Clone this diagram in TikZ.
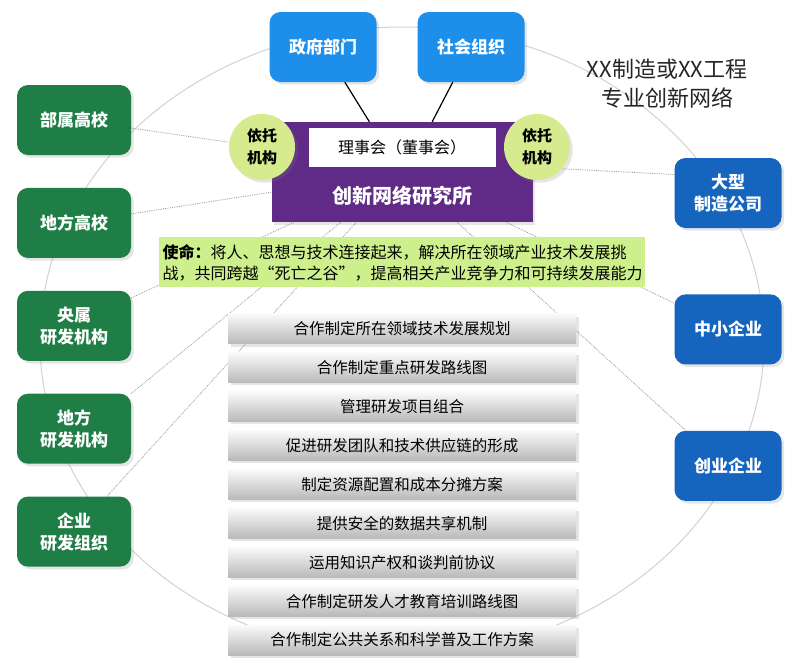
\documentclass[tikz,border=0pt]{standalone}
\usepackage{fontspec}
\setmainfont{Noto Sans CJK SC}
\usetikzlibrary{positioning,shapes,backgrounds,shadows}

\definecolor{unigreen}{HTML}{1E7E45}
\definecolor{firmblue}{HTML}{1565BF}
\definecolor{govblue}{HTML}{1E8EEB}
\definecolor{instpurple}{HTML}{5F2B87}
\definecolor{relyfill}{HTML}{D5EB8E}
\definecolor{missionfill}{HTML}{CDF08C}

\begin{document}
\begin{tikzpicture}[x=1pt,y=-1pt,node distance=32.5pt]

	\tikzstyle{member}=[rectangle,rounded corners=11pt,minimum width=114pt,minimum height=70pt,text=white,align=center,drop shadow={opacity=0.2},font=\fontsize{17}{22}\selectfont\bfseries]
	\tikzstyle{school}=[member,fill=unigreen]
	\tikzstyle{firm}=[member,fill=firmblue,minimum width=107pt]
	\tikzstyle{public}=[member,fill=govblue,minimum width=107pt]
	\tikzstyle{rely}=[circle,fill=relyfill,minimum size=66pt,inner sep=0pt,align=center,drop shadow={opacity=0.2},font=\fontsize{15}{22}\selectfont\bfseries]
	\tikzstyle{task}=[rectangle,minimum width=348pt,minimum height=30pt,top color=gray!4,bottom color=gray!55,drop shadow={opacity=0.2},font=\fontsize{15.5}{18}\selectfont]
	\tikzstyle{link}=[densely dotted,gray!80,line width=0.8pt]

	\useasboundingbox (0,0) rectangle (800,662);

	% members on the ring
	\node [school] (g1) at (74,120) {部属高校};
	\node [school] (g2) [below=of g1] {地方高校};
	\node [school] (g3) [below=of g2] {央属\\研发机构};
	\node [school] (g4) [below=of g3] {地方\\研发机构};
	\node [school] (g5) [below=of g4] {企业\\研发组织};

	\node [firm] (b1) at (728,193) {大型\\制造公司};
	\node [firm] (b2) [below=66pt of b1] {中小企业};
	\node [firm] (b3) [below=66pt of b2] {创业企业};

	\node [public] (t1) at (323,47) {政府部门};
	\node [public] (t2) at (471,47) {社会组织};

	% the institute
	\node [rectangle,fill=instpurple,minimum width=261pt,minimum height=100pt,drop shadow={opacity=0.2}] (inst) at (402,172) {};
	\node [rectangle,fill=white,minimum width=187pt,minimum height=39pt,font=\fontsize{16}{18}\selectfont] (board) [below=6pt of inst.north] {理事会（董事会）};
	\node [text=white,font=\fontsize{20}{24}\selectfont\bfseries] (instname) [above=13pt of inst.south] {创新网络研究所};
	\node [rely] (yt1) at (262,147) {依托\\机构};
	\node [rely] (yt2) at (537,147) {依托\\机构};

	\node [fill=missionfill,text width=479pt,minimum height=50pt,align=left,font=\fontsize{16}{21}\selectfont] (mission) [below=15pt of inst] {\textbf{使命：}将人、思想与技术连接起来，解决所在领域产业技术发展挑\\战，共同跨越“死亡之谷”，提高相关产业竞争力和可持续发展能力};

	% tasks
	\node [task] (p1) [below=26pt of mission] {合作制定所在领域技术发展规划};
	\node [task] (p2) [below=8.5pt of p1] {合作制定重点研发路线图};
	\node [task] (p3) [below=8.5pt of p2] {管理研发项目组合};
	\node [task] (p4) [below=8.5pt of p3] {促进研发团队和技术供应链的形成};
	\node [task] (p5) [below=8.5pt of p4] {制定资源配置和成本分摊方案};
	\node [task] (p6) [below=8.5pt of p5] {提供安全的数据共享机制};
	\node [task] (p7) [below=8.5pt of p6] {运用知识产权和谈判前协议};
	\node [task] (p8) [below=8.5pt of p7] {合作制定研发人才教育培训路线图};
	\node [task] (p9) [below=8.5pt of p8] {合作制定公共关系和科学普及工作方案};

	\node [font=\fontsize{22}{29}\selectfont,text=black!85,align=center] (title) at (667,84) {XX制造或XX工程\\专业创新网络};

	\draw [line width=1.2pt] (t1) -- (inst.123);
	\draw [line width=1.2pt] (t2) -- (inst.59);

	\begin{scope}[on background layer]
		\fill [white] (0,0) rectangle (800,662);
		\draw [gray!35,line width=1pt] (402,341) ellipse [x radius=362,y radius=314];
		\draw [link] (g1.-8) -- (yt1);
		\draw [link] (g2.9) -- (inst);
		\draw [link] (g3.26) -- (inst);
		\draw [link] (g4.north east) -- (inst);
		\draw [link] (g5.47) -- (inst);
		\draw [link] (yt2.-41) -- (b1.161);
		\draw [link] (inst) -- (b2.154);
		\draw [link] (inst) -- (b3.140);
	\end{scope}
\end{tikzpicture}
\end{document}
